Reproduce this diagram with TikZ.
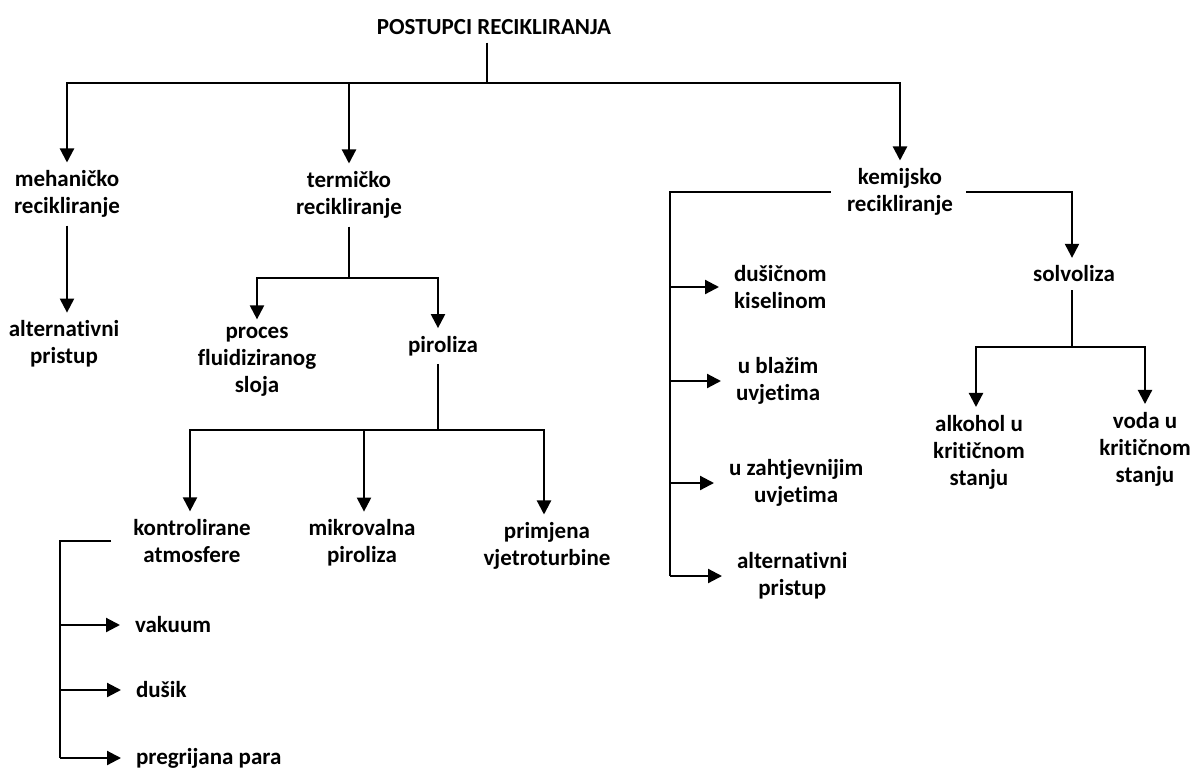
\documentclass[tikz,border=0pt]{standalone}
\usepackage{fontspec}
\setmainfont{Carlito}[Ligatures={NoCommon,NoContextual,NoRare},Contextuals=NoAlternate]
\usetikzlibrary{arrows.meta}
\newcommand{\nlti}{t\kern0pt i}
\tikzset{
 lbl/.style={font=\fontsize{23}{27}\selectfont\bfseries, align=center, inner sep=0pt, outer ysep=8pt, text=black},
 side/.style={lbl, outer xsep=15pt, anchor=west},
 ln/.style={line width=2.2pt},
 arr/.style={ln, -{Triangle[width=14pt,length=14pt]}},
}
\begin{document}
\begin{tikzpicture}[x=1pt,y=-1pt]
\useasboundingbox[fill=white] (0,0) rectangle (1196,771);
\node[lbl] (title) at (494,27) {POSTUPCI RECIKLIRANJA};
\node[lbl] (meh) at (67,194) {mehaničko\\recikliranje};
\node[lbl] (term) at (349,195) {termičko\\recikliranje};
\node[lbl] (kem) at (900,192) {kemijsko\\recikliranje};
\node[lbl] (alt1) at (64,344) {alterna\nlti vni\\pristup};
\node[lbl] (proc) at (257,362) {proces\\fluidiziranog\\sloja};
\node[lbl] (pir) at (443,346) {piroliza};
\node[lbl] (kontr) at (192,541) {kontrolirane\\atmosfere};
\node[lbl] (mikro) at (362,543) {mikrovalna\\piroliza};
\node[lbl] (prim) at (547,546) {primjena\\vjetroturbine};
\node[side] (vak) at (120,625) {vakuum};
\node[side] (dus) at (121,690) {dušik};
\node[side] (preg) at (121,758) {pregrijana para};
\node[side] (dusic) at (719,287) {dušičnom\\kiselinom};
\node[side] (blaz) at (721,381) {u blažim\\uvje\nlti ma};
\node[side] (zaht) at (714,483) {u zahtjevnijim\\uvje\nlti ma};
\node[side] (alt2) at (722,576) {alterna\nlti vni\\pristup};
\node[lbl] (solv) at (1074,274) {solvoliza};
\node[lbl] (alk) at (979,452) {alkohol u\\kri\nlti čnom\\stanju};
\node[lbl] (voda) at (1145,449) {voda u\\kri\nlti čnom\\stanju};

\coordinate (j0) at (487,83);
\draw[ln] (j0 |- title.south) -- (j0);
\draw[arr] (j0) -| (meh.north);
\draw[arr] (j0) -| (term.north);
\draw[arr] (j0) -| (kem.north);

\draw[arr] (meh.south) -- (meh.south |- alt1.north);

\coordinate (j1) at (349,278);
\draw[ln] (term.south) -- (j1);
\draw[arr] (j1) -| (proc.north);
\draw[arr] (j1) -| ([xshift=-5pt]pir.north);

\coordinate (j2) at (438,430);
\draw[ln] ([xshift=-5pt]pir.south) -- (j2);
\draw[arr] (j2) -| ([xshift=-2pt]kontr.north);
\draw[arr] (j2) -| ([xshift=2pt]mikro.north);
\draw[arr] (j2) -| ([xshift=-3pt]prim.north);

\coordinate (kv) at (60,0);
\draw[ln] ([xshift=-22pt]kontr.west) -| (kv |- preg.west);
\draw[arr] (kv |- vak.west) -- (vak.west);
\draw[arr] (kv |- dus.west) -- (dus.west);
\draw[arr] (kv |- preg.west) -- (preg.west);

\coordinate (kl) at (670,0);
\draw[ln] ([xshift=-16pt]kem.west) -| (kl |- alt2.west);
\draw[arr] (kl |- dusic.west) -- (dusic.west);
\draw[arr] (kl |- blaz.west) -- (blaz.west);
\draw[arr] (kl |- zaht.west) -- (zaht.west);
\draw[arr] (kl |- alt2.west) -- (alt2.west);

\draw[arr] ([xshift=13pt]kem.east) -| ([xshift=-2pt]solv.north);
\coordinate (j3) at (1072,347);
\draw[ln] (solv.south -| j3) -- (j3);
\draw[arr] (j3) -| ([xshift=-3pt]alk.north);
\draw[arr] (j3) -| (voda.north);
\end{tikzpicture}
\end{document}
